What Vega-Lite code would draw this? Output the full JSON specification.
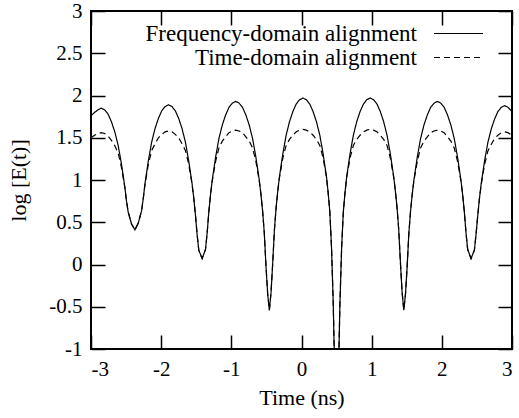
{
  "$schema": "https://vega.github.io/schema/vega-lite/v6.json",
  "width": 421,
  "height": 338,
  "autosize": {"type": "none"},
  "padding": {"left": 91, "top": 11, "right": 7, "bottom": 69},
  "config": {
    "font": "Liberation Serif, serif",
    "view": {"stroke": "black", "strokeWidth": 2},
    "axis": {
      "domain": false,
      "grid": false,
      "tickColor": "black",
      "tickWidth": 1.5,
      "tickSize": -14,
      "labelColor": "black",
      "labelFont": "Liberation Serif, serif",
      "labelFontSize": 21,
      "titleFont": "Liberation Serif, serif",
      "titleFontSize": 22,
      "titleFontWeight": "normal",
      "titleColor": "black"
    },
    "legend": {"labelFont": "Liberation Serif, serif"}
  },
  "data": {
    "values": [
      {"t": -3.0, "Frequency-domain alignment": 1.76, "Time-domain alignment": 1.50},
      {"t": -2.949, "Frequency-domain alignment": 1.80, "Time-domain alignment": 1.53},
      {"t": -2.901, "Frequency-domain alignment": 1.83, "Time-domain alignment": 1.55},
      {"t": -2.853, "Frequency-domain alignment": 1.85, "Time-domain alignment": 1.56},
      {"t": -2.805, "Frequency-domain alignment": 1.83, "Time-domain alignment": 1.55},
      {"t": -2.757, "Frequency-domain alignment": 1.78, "Time-domain alignment": 1.52},
      {"t": -2.709, "Frequency-domain alignment": 1.69, "Time-domain alignment": 1.47},
      {"t": -2.661, "Frequency-domain alignment": 1.57, "Time-domain alignment": 1.405},
      {"t": -2.613, "Frequency-domain alignment": 1.41, "Time-domain alignment": 1.32},
      {"t": -2.566, "Frequency-domain alignment": 1.19, "Time-domain alignment": 1.15},
      {"t": -2.518, "Frequency-domain alignment": 0.92, "Time-domain alignment": 0.91},
      {"t": -2.494, "Frequency-domain alignment": 0.75, "Time-domain alignment": 0.75},
      {"t": -2.470, "Frequency-domain alignment": 0.62, "Time-domain alignment": 0.62},
      {"t": -2.422, "Frequency-domain alignment": 0.48, "Time-domain alignment": 0.48},
      {"t": -2.374, "Frequency-domain alignment": 0.41, "Time-domain alignment": 0.41},
      {"t": -2.326, "Frequency-domain alignment": 0.49, "Time-domain alignment": 0.49},
      {"t": -2.278, "Frequency-domain alignment": 0.64, "Time-domain alignment": 0.64},
      {"t": -2.254, "Frequency-domain alignment": 0.79, "Time-domain alignment": 0.79},
      {"t": -2.230, "Frequency-domain alignment": 0.96, "Time-domain alignment": 0.95},
      {"t": -2.182, "Frequency-domain alignment": 1.23, "Time-domain alignment": 1.19},
      {"t": -2.135, "Frequency-domain alignment": 1.45, "Time-domain alignment": 1.35},
      {"t": -2.087, "Frequency-domain alignment": 1.61, "Time-domain alignment": 1.43},
      {"t": -2.039, "Frequency-domain alignment": 1.73, "Time-domain alignment": 1.50},
      {"t": -1.991, "Frequency-domain alignment": 1.82, "Time-domain alignment": 1.54},
      {"t": -1.943, "Frequency-domain alignment": 1.87, "Time-domain alignment": 1.57},
      {"t": -1.895, "Frequency-domain alignment": 1.89, "Time-domain alignment": 1.58},
      {"t": -1.847, "Frequency-domain alignment": 1.87, "Time-domain alignment": 1.57},
      {"t": -1.799, "Frequency-domain alignment": 1.82, "Time-domain alignment": 1.54},
      {"t": -1.751, "Frequency-domain alignment": 1.73, "Time-domain alignment": 1.50},
      {"t": -1.703, "Frequency-domain alignment": 1.61, "Time-domain alignment": 1.43},
      {"t": -1.655, "Frequency-domain alignment": 1.45, "Time-domain alignment": 1.35},
      {"t": -1.608, "Frequency-domain alignment": 1.23, "Time-domain alignment": 1.19},
      {"t": -1.560, "Frequency-domain alignment": 0.96, "Time-domain alignment": 0.95},
      {"t": -1.536, "Frequency-domain alignment": 0.79, "Time-domain alignment": 0.79},
      {"t": -1.512, "Frequency-domain alignment": 0.59, "Time-domain alignment": 0.59},
      {"t": -1.488, "Frequency-domain alignment": 0.36, "Time-domain alignment": 0.36},
      {"t": -1.464, "Frequency-domain alignment": 0.17, "Time-domain alignment": 0.17},
      {"t": -1.416, "Frequency-domain alignment": 0.07, "Time-domain alignment": 0.07},
      {"t": -1.368, "Frequency-domain alignment": 0.18, "Time-domain alignment": 0.18},
      {"t": -1.344, "Frequency-domain alignment": 0.38, "Time-domain alignment": 0.38},
      {"t": -1.320, "Frequency-domain alignment": 0.63, "Time-domain alignment": 0.63},
      {"t": -1.296, "Frequency-domain alignment": 0.83, "Time-domain alignment": 0.83},
      {"t": -1.272, "Frequency-domain alignment": 1.00, "Time-domain alignment": 0.99},
      {"t": -1.224, "Frequency-domain alignment": 1.27, "Time-domain alignment": 1.22},
      {"t": -1.177, "Frequency-domain alignment": 1.49, "Time-domain alignment": 1.38},
      {"t": -1.129, "Frequency-domain alignment": 1.65, "Time-domain alignment": 1.46},
      {"t": -1.081, "Frequency-domain alignment": 1.77, "Time-domain alignment": 1.51},
      {"t": -1.033, "Frequency-domain alignment": 1.86, "Time-domain alignment": 1.56},
      {"t": -0.985, "Frequency-domain alignment": 1.91, "Time-domain alignment": 1.58},
      {"t": -0.937, "Frequency-domain alignment": 1.93, "Time-domain alignment": 1.59},
      {"t": -0.889, "Frequency-domain alignment": 1.91, "Time-domain alignment": 1.58},
      {"t": -0.841, "Frequency-domain alignment": 1.86, "Time-domain alignment": 1.56},
      {"t": -0.793, "Frequency-domain alignment": 1.77, "Time-domain alignment": 1.51},
      {"t": -0.745, "Frequency-domain alignment": 1.65, "Time-domain alignment": 1.46},
      {"t": -0.697, "Frequency-domain alignment": 1.49, "Time-domain alignment": 1.38},
      {"t": -0.650, "Frequency-domain alignment": 1.27, "Time-domain alignment": 1.22},
      {"t": -0.602, "Frequency-domain alignment": 1.00, "Time-domain alignment": 0.99},
      {"t": -0.578, "Frequency-domain alignment": 0.83, "Time-domain alignment": 0.83},
      {"t": -0.554, "Frequency-domain alignment": 0.63, "Time-domain alignment": 0.63},
      {"t": -0.530, "Frequency-domain alignment": 0.37, "Time-domain alignment": 0.37},
      {"t": -0.506, "Frequency-domain alignment": -0.02, "Time-domain alignment": -0.02},
      {"t": -0.482, "Frequency-domain alignment": -0.35, "Time-domain alignment": -0.35},
      {"t": -0.458, "Frequency-domain alignment": -0.54, "Time-domain alignment": -0.54},
      {"t": -0.434, "Frequency-domain alignment": -0.33, "Time-domain alignment": -0.33},
      {"t": -0.410, "Frequency-domain alignment": 0.02, "Time-domain alignment": 0.02},
      {"t": -0.386, "Frequency-domain alignment": 0.41, "Time-domain alignment": 0.41},
      {"t": -0.362, "Frequency-domain alignment": 0.67, "Time-domain alignment": 0.67},
      {"t": -0.338, "Frequency-domain alignment": 0.87, "Time-domain alignment": 0.87},
      {"t": -0.314, "Frequency-domain alignment": 1.04, "Time-domain alignment": 1.03},
      {"t": -0.266, "Frequency-domain alignment": 1.31, "Time-domain alignment": 1.26},
      {"t": -0.219, "Frequency-domain alignment": 1.53, "Time-domain alignment": 1.41},
      {"t": -0.171, "Frequency-domain alignment": 1.69, "Time-domain alignment": 1.48},
      {"t": -0.123, "Frequency-domain alignment": 1.81, "Time-domain alignment": 1.53},
      {"t": -0.075, "Frequency-domain alignment": 1.90, "Time-domain alignment": 1.57},
      {"t": -0.027, "Frequency-domain alignment": 1.95, "Time-domain alignment": 1.59},
      {"t": 0.021, "Frequency-domain alignment": 1.97, "Time-domain alignment": 1.60},
      {"t": 0.069, "Frequency-domain alignment": 1.95, "Time-domain alignment": 1.59},
      {"t": 0.117, "Frequency-domain alignment": 1.90, "Time-domain alignment": 1.57},
      {"t": 0.165, "Frequency-domain alignment": 1.81, "Time-domain alignment": 1.53},
      {"t": 0.213, "Frequency-domain alignment": 1.69, "Time-domain alignment": 1.48},
      {"t": 0.261, "Frequency-domain alignment": 1.53, "Time-domain alignment": 1.41},
      {"t": 0.308, "Frequency-domain alignment": 1.31, "Time-domain alignment": 1.26},
      {"t": 0.356, "Frequency-domain alignment": 1.04, "Time-domain alignment": 1.03},
      {"t": 0.380, "Frequency-domain alignment": 0.85, "Time-domain alignment": 0.85},
      {"t": 0.404, "Frequency-domain alignment": 0.62, "Time-domain alignment": 0.62},
      {"t": 0.428, "Frequency-domain alignment": 0.20, "Time-domain alignment": 0.20},
      {"t": 0.452, "Frequency-domain alignment": -0.45, "Time-domain alignment": -0.45},
      {"t": 0.476, "Frequency-domain alignment": -1.4, "Time-domain alignment": -1.4},
      {"t": 0.500, "Frequency-domain alignment": -2.0, "Time-domain alignment": -2.0},
      {"t": 0.524, "Frequency-domain alignment": -1.4, "Time-domain alignment": -1.4},
      {"t": 0.548, "Frequency-domain alignment": -0.45, "Time-domain alignment": -0.45},
      {"t": 0.572, "Frequency-domain alignment": 0.20, "Time-domain alignment": 0.20},
      {"t": 0.596, "Frequency-domain alignment": 0.62, "Time-domain alignment": 0.62},
      {"t": 0.620, "Frequency-domain alignment": 0.85, "Time-domain alignment": 0.85},
      {"t": 0.644, "Frequency-domain alignment": 1.04, "Time-domain alignment": 1.03},
      {"t": 0.692, "Frequency-domain alignment": 1.31, "Time-domain alignment": 1.26},
      {"t": 0.739, "Frequency-domain alignment": 1.53, "Time-domain alignment": 1.41},
      {"t": 0.787, "Frequency-domain alignment": 1.69, "Time-domain alignment": 1.48},
      {"t": 0.835, "Frequency-domain alignment": 1.81, "Time-domain alignment": 1.53},
      {"t": 0.883, "Frequency-domain alignment": 1.90, "Time-domain alignment": 1.57},
      {"t": 0.931, "Frequency-domain alignment": 1.95, "Time-domain alignment": 1.59},
      {"t": 0.979, "Frequency-domain alignment": 1.97, "Time-domain alignment": 1.60},
      {"t": 1.027, "Frequency-domain alignment": 1.95, "Time-domain alignment": 1.59},
      {"t": 1.075, "Frequency-domain alignment": 1.90, "Time-domain alignment": 1.57},
      {"t": 1.123, "Frequency-domain alignment": 1.81, "Time-domain alignment": 1.53},
      {"t": 1.171, "Frequency-domain alignment": 1.69, "Time-domain alignment": 1.48},
      {"t": 1.219, "Frequency-domain alignment": 1.53, "Time-domain alignment": 1.41},
      {"t": 1.266, "Frequency-domain alignment": 1.31, "Time-domain alignment": 1.26},
      {"t": 1.314, "Frequency-domain alignment": 1.04, "Time-domain alignment": 1.03},
      {"t": 1.338, "Frequency-domain alignment": 0.87, "Time-domain alignment": 0.87},
      {"t": 1.362, "Frequency-domain alignment": 0.67, "Time-domain alignment": 0.67},
      {"t": 1.386, "Frequency-domain alignment": 0.41, "Time-domain alignment": 0.41},
      {"t": 1.410, "Frequency-domain alignment": 0.02, "Time-domain alignment": 0.02},
      {"t": 1.434, "Frequency-domain alignment": -0.33, "Time-domain alignment": -0.33},
      {"t": 1.458, "Frequency-domain alignment": -0.54, "Time-domain alignment": -0.54},
      {"t": 1.482, "Frequency-domain alignment": -0.35, "Time-domain alignment": -0.35},
      {"t": 1.506, "Frequency-domain alignment": -0.02, "Time-domain alignment": -0.02},
      {"t": 1.530, "Frequency-domain alignment": 0.37, "Time-domain alignment": 0.37},
      {"t": 1.554, "Frequency-domain alignment": 0.63, "Time-domain alignment": 0.63},
      {"t": 1.578, "Frequency-domain alignment": 0.83, "Time-domain alignment": 0.83},
      {"t": 1.602, "Frequency-domain alignment": 1.00, "Time-domain alignment": 0.99},
      {"t": 1.650, "Frequency-domain alignment": 1.27, "Time-domain alignment": 1.22},
      {"t": 1.697, "Frequency-domain alignment": 1.49, "Time-domain alignment": 1.38},
      {"t": 1.745, "Frequency-domain alignment": 1.65, "Time-domain alignment": 1.46},
      {"t": 1.793, "Frequency-domain alignment": 1.77, "Time-domain alignment": 1.51},
      {"t": 1.841, "Frequency-domain alignment": 1.86, "Time-domain alignment": 1.56},
      {"t": 1.889, "Frequency-domain alignment": 1.91, "Time-domain alignment": 1.58},
      {"t": 1.937, "Frequency-domain alignment": 1.93, "Time-domain alignment": 1.59},
      {"t": 1.985, "Frequency-domain alignment": 1.91, "Time-domain alignment": 1.58},
      {"t": 2.033, "Frequency-domain alignment": 1.86, "Time-domain alignment": 1.56},
      {"t": 2.081, "Frequency-domain alignment": 1.77, "Time-domain alignment": 1.51},
      {"t": 2.129, "Frequency-domain alignment": 1.65, "Time-domain alignment": 1.46},
      {"t": 2.177, "Frequency-domain alignment": 1.49, "Time-domain alignment": 1.38},
      {"t": 2.224, "Frequency-domain alignment": 1.27, "Time-domain alignment": 1.22},
      {"t": 2.272, "Frequency-domain alignment": 1.00, "Time-domain alignment": 0.99},
      {"t": 2.296, "Frequency-domain alignment": 0.83, "Time-domain alignment": 0.83},
      {"t": 2.320, "Frequency-domain alignment": 0.63, "Time-domain alignment": 0.63},
      {"t": 2.344, "Frequency-domain alignment": 0.38, "Time-domain alignment": 0.38},
      {"t": 2.368, "Frequency-domain alignment": 0.18, "Time-domain alignment": 0.18},
      {"t": 2.416, "Frequency-domain alignment": 0.07, "Time-domain alignment": 0.07},
      {"t": 2.464, "Frequency-domain alignment": 0.17, "Time-domain alignment": 0.17},
      {"t": 2.488, "Frequency-domain alignment": 0.36, "Time-domain alignment": 0.36},
      {"t": 2.512, "Frequency-domain alignment": 0.58, "Time-domain alignment": 0.58},
      {"t": 2.536, "Frequency-domain alignment": 0.78, "Time-domain alignment": 0.78},
      {"t": 2.560, "Frequency-domain alignment": 0.95, "Time-domain alignment": 0.94},
      {"t": 2.608, "Frequency-domain alignment": 1.22, "Time-domain alignment": 1.18},
      {"t": 2.655, "Frequency-domain alignment": 1.44, "Time-domain alignment": 1.34},
      {"t": 2.703, "Frequency-domain alignment": 1.60, "Time-domain alignment": 1.42},
      {"t": 2.751, "Frequency-domain alignment": 1.72, "Time-domain alignment": 1.49},
      {"t": 2.799, "Frequency-domain alignment": 1.81, "Time-domain alignment": 1.53},
      {"t": 2.847, "Frequency-domain alignment": 1.86, "Time-domain alignment": 1.56},
      {"t": 2.895, "Frequency-domain alignment": 1.88, "Time-domain alignment": 1.57},
      {"t": 2.943, "Frequency-domain alignment": 1.86, "Time-domain alignment": 1.56},
      {"t": 3.0, "Frequency-domain alignment": 1.81, "Time-domain alignment": 1.53}
    ]
  },
  "transform": [
    {"fold": ["Frequency-domain alignment", "Time-domain alignment"], "as": ["series", "value"]}
  ],
  "layer": [
    {
      "mark": {"type": "line", "clip": true, "color": "black", "strokeWidth": 1.2},
      "encoding": {
        "x": {
          "field": "t", "type": "quantitative",
          "scale": {"domain": [-3, 3], "nice": false, "zero": false},
          "axis": {"orient": "bottom", "values": [-3, -2, -1, 0, 1, 2, 3], "labelExpr": "'' + datum.value", "title": "Time (ns)", "labelPadding": 23, "titlePadding": 8}
        },
        "y": {
          "field": "value", "type": "quantitative",
          "scale": {"domain": [-1, 3], "nice": false, "zero": false},
          "axis": {"orient": "left", "values": [-1, -0.5, 0, 0.5, 1, 1.5, 2, 2.5, 3], "labelExpr": "'' + datum.value", "title": "log [E(t)]", "labelPadding": 23, "titlePadding": 18}
        },
        "strokeDash": {
          "field": "series", "type": "nominal",
          "scale": {"domain": ["Frequency-domain alignment", "Time-domain alignment"], "range": [[1, 0], [6, 4]]},
          "legend": {
            "orient": "none", "legendX": 356, "legendY": 11, "title": null,
            "symbolType": "M-4.9,0H4.9", "symbolSize": 100, "symbolStrokeWidth": 1.2, "symbolStrokeColor": "black",
            "labelAlign": "right", "labelOffset": -53, "labelFontSize": 23, "labelFont": "Liberation Serif, serif", "labelColor": "black",
            "labelLimit": 500, "rowPadding": -3
          }
        }
      }
    },
    {
      "mark": {"type": "line", "opacity": 0},
      "encoding": {
        "x": {"field": "t", "type": "quantitative", "axis": {"orient": "top", "values": [-3, -2, -1, 0, 1, 2, 3], "labels": false, "title": null}},
        "y": {"field": "value", "type": "quantitative", "axis": {"orient": "right", "values": [-1, -0.5, 0, 0.5, 1, 1.5, 2, 2.5, 3], "labels": false, "title": null}}
      }
    }
  ],
  "resolve": {"axis": {"x": "independent", "y": "independent"}}
}
